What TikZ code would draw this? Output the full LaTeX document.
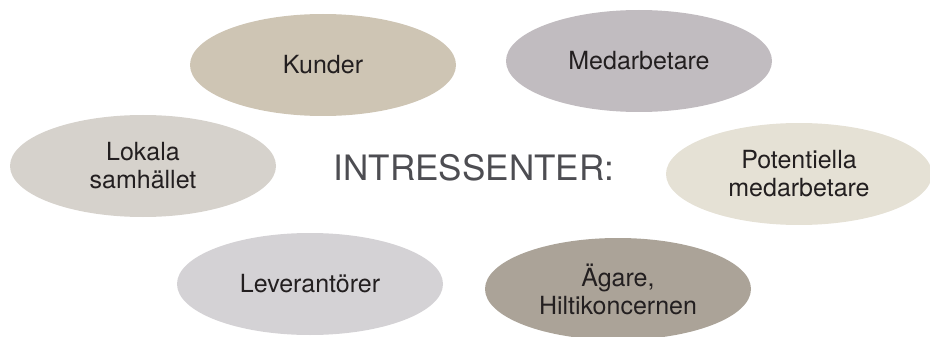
\documentclass[tikz,border=0pt]{standalone}
\usepackage{fontspec}
\setmainfont{TeX Gyre Heros}
\usetikzlibrary{shapes.geometric}
\definecolor{cKunder}{HTML}{CEC5B4}
\definecolor{cMed}{HTML}{C1BCC0}
\definecolor{cLok}{HTML}{D6D2CC}
\definecolor{cPot}{HTML}{E5E1D5}
\definecolor{cLev}{HTML}{D4D2D5}
\definecolor{cAg}{HTML}{ABA398}
\definecolor{cTxt}{HTML}{231F20}
\definecolor{cTitle}{HTML}{4D4D52}
\tikzset{
  stake/.style={ellipse, inner sep=0pt, minimum width=266pt, minimum height=102pt,
    align=center, text=cTxt, font=\fontsize{25}{28}\selectfont},
}
\begin{document}
\begin{tikzpicture}[x=1pt,y=-1pt]
\useasboundingbox (0,0) rectangle (930,337);
\clip (0,0) rectangle (930,337);
\node[stake, fill=cKunder] (kunder) at (323,65) {Kunder};
\node[stake, fill=cMed] (med) at (639,61) {Medarbetare};
\node[stake, fill=cLok] (lok) at (143,166) {Lokala\\samhället};
\node[stake, fill=cPot] (pot) at (799,174) {Potentiella\\medarbetare};
\node[stake, fill=cLev] (lev) at (310,284) {Leverantörer};
\node[stake, fill=cAg] (ag) at (618,289) {Ägare,\\Hiltikoncernen};
\node[text=cTitle, font=\fontsize{35}{40}\selectfont, inner sep=0pt] (title) at (474,168) {INTRESSENTER:};
\end{tikzpicture}
\end{document}
